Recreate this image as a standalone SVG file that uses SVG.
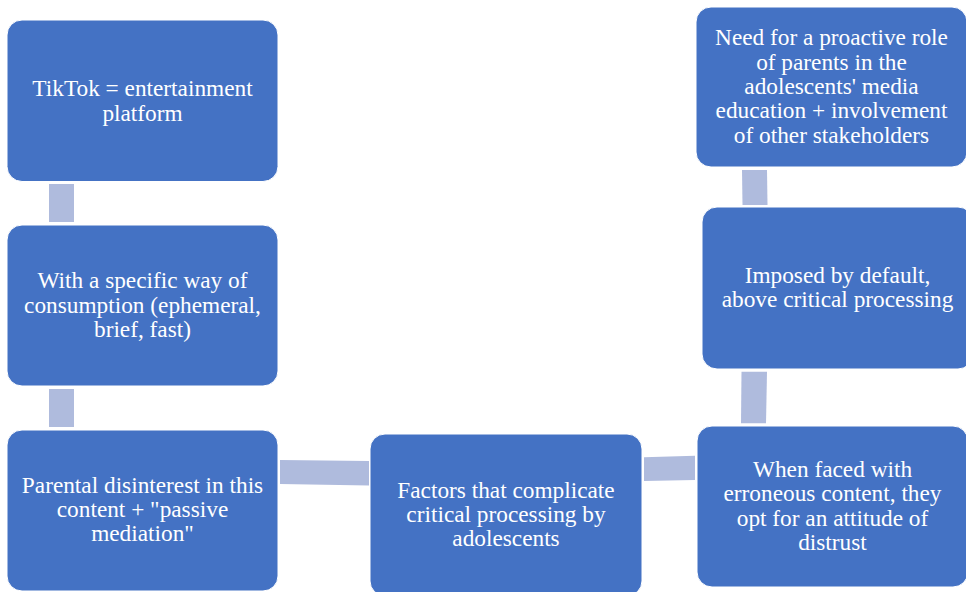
<svg xmlns="http://www.w3.org/2000/svg" width="966" height="592" viewBox="0 0 966 592">
<style>
.box{fill:#4472C4;stroke:#FFFFFF;stroke-width:1}
.con{fill:#AFBBDD}
text{font-family:'Liberation Serif','Times New Roman',Times,'DejaVu Serif',serif;font-size:23.3px;fill:#FFFFFF;text-anchor:middle}
</style>
<rect width="966" height="592" fill="#FFFFFF"/>
<g id="connectors">
<polygon class="con" points="49,184 74,184 74,222 49,222"/>
<polygon class="con" points="49,389 74,389 74,427 49,427"/>
<polygon class="con" points="280,460 369,461 369,485.5 280,484"/>
<polygon class="con" points="644,457.3 695,455.7 695,480 644,481"/>
<polygon class="con" points="741.5,371.7 767,371.7 766,423.3 741,423.3"/>
<polygon class="con" points="742,170 767,170 767.5,205 742.5,205"/>
</g>
<g id="n1">
<rect class="box" x="7" y="20" width="271" height="161.5" rx="15"/>
<text x="142.5" y="96.3">TikTok = entertainment</text>
<text x="142.5" y="120.5">platform</text>
</g>
<g id="n2">
<rect class="box" x="7" y="225" width="271" height="161" rx="15"/>
<text x="142.5" y="288">With a specific way of</text>
<text x="142.5" y="312.5">consumption (ephemeral,</text>
<text x="142.5" y="336.8">brief, fast)</text>
</g>
<g id="n3">
<rect class="box" x="7" y="430" width="271" height="161" rx="15"/>
<text x="142.5" y="492.5">Parental disinterest in this</text>
<text x="142.5" y="516.8">content + "passive</text>
<text x="142.5" y="541">mediation"</text>
</g>
<g id="n4">
<rect class="box" x="370" y="434" width="272" height="162" rx="15"/>
<text x="506" y="497.7">Factors that complicate</text>
<text x="506" y="522">critical processing by</text>
<text x="506" y="546.3">adolescents</text>
</g>
<g id="n5">
<rect class="box" x="697" y="426" width="271" height="161" rx="15"/>
<text x="832.5" y="477">When faced with</text>
<text x="832.5" y="501.3">erroneous content, they</text>
<text x="832.5" y="525.6">opt for an attitude of</text>
<text x="832.5" y="549.9">distrust</text>
</g>
<g id="n6">
<rect class="box" x="702" y="207" width="271" height="162" rx="15"/>
<text x="837.5" y="282.8">Imposed by default,</text>
<text x="837.5" y="307.1">above critical processing</text>
</g>
<g id="n7">
<rect class="box" x="696" y="7" width="271" height="160" rx="15"/>
<text x="831.5" y="45.4">Need for a proactive role</text>
<text x="831.5" y="69.7">of parents in the</text>
<text x="831.5" y="94">adolescents' media</text>
<text x="831.5" y="118.3">education + involvement</text>
<text x="831.5" y="142.6">of other stakeholders</text>
</g>
</svg>
